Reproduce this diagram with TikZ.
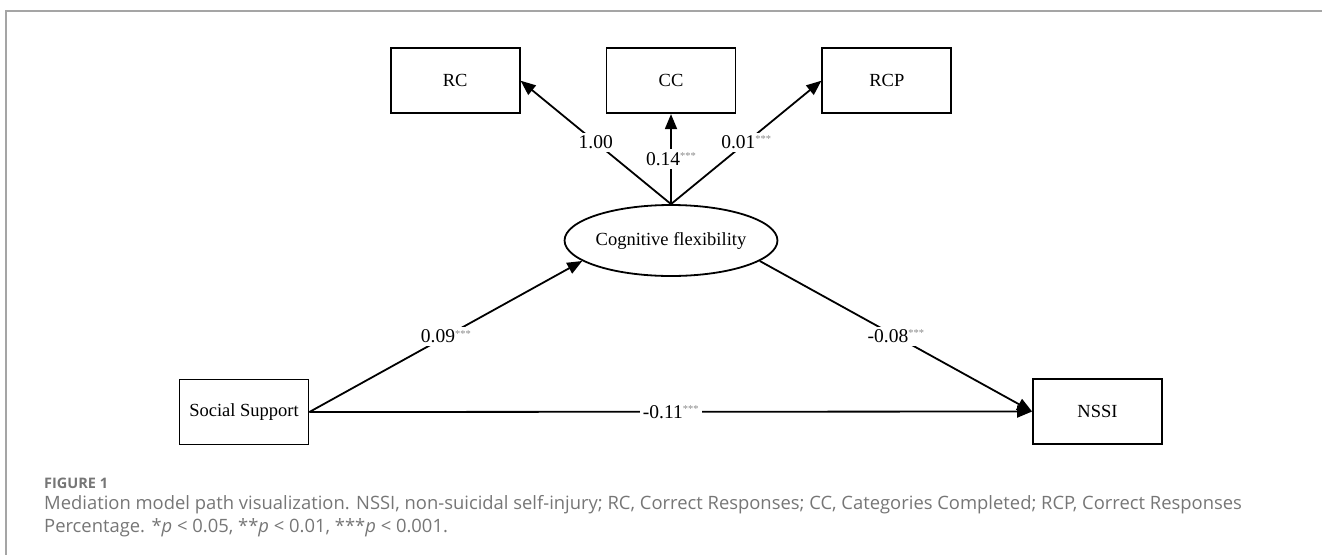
\documentclass[tikz,border=0pt]{standalone}
\usepackage{fontspec}
\setmainfont{Liberation Serif}
\newfontfamily\capfont{Open Sans}
\usetikzlibrary{arrows.meta,positioning,shapes.geometric}
\definecolor{capgray}{RGB}{118,118,118}
\definecolor{stargray}{RGB}{140,140,140}
\definecolor{framegray}{RGB}{165,165,165}
\newcommand{\sig}{\raisebox{0.65ex}{\fontsize{10.5}{10}\selectfont\color{stargray}***}}

\begin{document}
\begin{tikzpicture}[
  x=1pt, y=-1pt,
  node distance=90pt and 85pt,
  box/.style={draw, line width=1.8pt, minimum width=129pt, minimum height=65pt,
              inner sep=0pt, font=\fontsize{18.5}{22}\selectfont},
  latent/.style={draw, ellipse, line width=1.8pt, minimum width=159pt,
                 minimum height=71pt, inner sep=0pt, font=\fontsize{18.5}{22}\selectfont},
  coef/.style={fill=white, inner sep=3pt, font=\fontsize{19.5}{22}\selectfont},
  capt/.style={text=capgray, inner sep=0pt, font=\capfont\fontsize{18.4}{23}\selectfont},
  every edge/.style={draw, line width=1.8pt, -{Triangle[length=15pt,width=12pt]}}
]
\useasboundingbox (0,0) rectangle (1322,555);
\draw[framegray, line width=1.3pt] (1322,11) -- (6,11) -- (6,555);
\node[latent] (cf) at (671,240.5) {Cognitive flexibility};
\node[box, above=of cf] (cc) {CC};
\node[box, left=of cc] (rc) {RC};
\node[box, right=of cc] (rcp) {RCP};
\node[box] (ss) at (244,412) {Social Support};
\node[box] (nssi) at (1097.5,411.5) {NSSI};
\path (cf.north) edge node[coef] {1.00} (rc.east)
      (cf.north) edge node[coef] {0.14\sig} (cc.south)
      (cf.north) edge node[coef] {0.01\sig} (rcp.west)
      (ss.east) edge node[coef] {0.09\sig} (cf.193)
      (cf.-13) edge node[coef] {-0.08\sig} (nssi.west)
      (ss.east) edge node[coef] {-0.11\sig} (nssi.west);
% caption
\node[capt, anchor=west, font=\capfont\bfseries\fontsize{14.5}{16}\selectfont] (fig) at (44,483) {FIGURE 1};
\node[capt, anchor=west, align=left] (cap) at (44,516)
  {Mediation model path visualization. NSSI, non-suicidal self-injury; RC, Correct Responses; CC, Categories Completed; RCP, Correct Responses\\
   Percentage. *\textit{p} < 0.05, **\textit{p} < 0.01, ***\textit{p} < 0.001.};
\end{tikzpicture}
\end{document}
